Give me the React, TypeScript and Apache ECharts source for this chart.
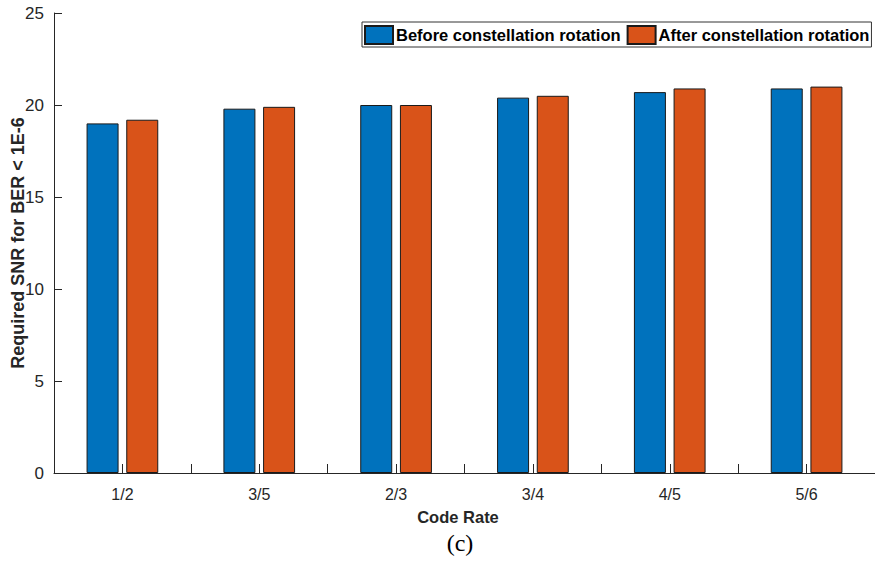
import React, { useEffect, useRef } from "react";
import * as echarts from "echarts";

const categories = ["1/2", "3/5", "2/3", "3/4", "4/5", "5/6"];
const beforeRotation = [19.0, 19.8, 20.0, 20.4, 20.7, 20.9];
const afterRotation = [19.2, 19.9, 20.0, 20.5, 20.9, 21.0];
const seriesNames = ["Before constellation rotation", "After constellation rotation"];
const yTitle = "Required SNR for BER < 1E-6";
const xTitle = "Code Rate";
const caption = "(c)";

const FONT = "Arial, Helvetica, sans-serif";

export default function App() {
  const ref = useRef<HTMLDivElement>(null);
  useEffect(() => {
    if (!ref.current) return;
    const chart = echarts.init(ref.current, null, { renderer: "svg" });
    const axisColor = "#262626";
    chart.setOption({
      animation: false,
      backgroundColor: "#ffffff",
      textStyle: { fontFamily: FONT },
      grid: { left: 54, right: -9, top: 13, bottom: 89, containLabel: false },
      legend: {
        left: 362,
        top: 22,
        orient: "horizontal",
        icon: "rect",
        itemWidth: 28,
        itemHeight: 18,
        itemGap: 6,
        padding: [3, 2, 2, 2],
        borderColor: "#333333",
        borderWidth: 1,
        backgroundColor: "#ffffff",
        textStyle: { fontFamily: FONT, fontWeight: "bold", fontSize: 16.5, color: "#000000", padding: [0, 0, 0, -2] },
        data: seriesNames,
      },
      xAxis: [
        {
          type: "category",
          data: categories,
          boundaryGap: true,
          axisLine: { show: true, lineStyle: { color: axisColor, width: 1 } },
          axisTick: { show: true, inside: true, length: 9, alignWithLabel: false, lineStyle: { color: axisColor } },
          axisLabel: { show: true, color: axisColor, fontSize: 16, fontFamily: FONT, margin: 13 },
          splitLine: { show: false },
        },
        {
          type: "category",
          data: categories,
          position: "bottom",
          boundaryGap: true,
          axisLine: { show: false },
          axisTick: { show: true, inside: true, length: 9, alignWithLabel: true, lineStyle: { color: axisColor } },
          axisLabel: { show: false },
          splitLine: { show: false },
        },
      ],
      yAxis: {
        type: "value",
        min: 0,
        max: 25,
        interval: 5,
        axisLine: { show: true, lineStyle: { color: axisColor, width: 1 } },
        axisTick: { show: true, inside: true, length: 8, lineStyle: { color: axisColor } },
        axisLabel: { color: axisColor, fontSize: 17, fontFamily: FONT, margin: 10 },
        splitLine: { show: false },
      },
      series: [
        {
          name: seriesNames[0],
          type: "bar",
          data: beforeRotation,
          barWidth: 32,
          barGap: "24%",
          itemStyle: { color: "#0072BD", borderColor: "#1a1a1a", borderWidth: 1 },
        },
        {
          name: seriesNames[1],
          type: "bar",
          data: afterRotation,
          barWidth: 32,
          barGap: "24%",
          itemStyle: { color: "#D95319", borderColor: "#1a1a1a", borderWidth: 1 },
        },
      ],
      graphic: [
        {
          type: "text",
          x: 18,
          y: 243,
          rotation: Math.PI / 2,
          style: {
            text: yTitle,
            font: "bold 18px Arial, sans-serif",
            fill: axisColor,
            align: "center",
            verticalAlign: "middle",
          },
        },
        {
          type: "text",
          x: 458,
          y: 517,
          style: {
            text: xTitle,
            font: "bold 16.5px Arial, sans-serif",
            fill: axisColor,
            align: "center",
            verticalAlign: "middle",
          },
        },
        {
          type: "text",
          x: 460,
          y: 543,
          style: {
            text: caption,
            font: "24px 'Times New Roman', serif",
            fill: "#000000",
            align: "center",
            verticalAlign: "middle",
          },
        },
      ],
    });
    return () => chart.dispose();
  }, []);
  return <div ref={ref} style={{ width: 875, height: 562, position: "absolute", left: 0, top: 0 }} />;
}
